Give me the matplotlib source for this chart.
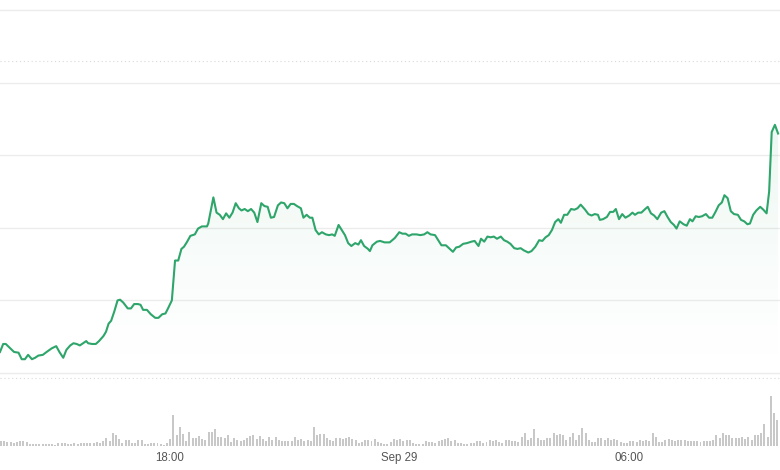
import numpy as np
import pandas as pd
import matplotlib
matplotlib.use("Agg")
import matplotlib.pyplot as plt
import matplotlib.dates as mdates
from matplotlib.colors import to_rgb

plt.rcParams['font.family'] = ['Liberation Sans', 'DejaVu Sans']

# Data -------------------------------------------------------------------
start = pd.Timestamp("2023-09-28 13:35")
end_min = 1221

# price trace: minutes after start and price
minutes = [0, 5, 9, 16, 22, 29, 34, 39, 44, 50,
           55, 60, 67, 73, 81, 88, 93, 99, 104, 110,
           115, 120, 125, 130, 135, 138, 144, 150, 155, 162,
           166, 170, 174, 179, 184, 188, 193, 200, 205, 210,
           216, 220, 224, 230, 236, 243, 248, 254, 259, 263,
           269, 274, 279, 284, 288, 293, 298, 305, 310, 316,
           324, 326, 334, 339, 344, 349, 354, 359, 364, 369,
           374, 378, 383, 388, 393, 398, 403, 409, 414, 419,
           424, 429, 435, 440, 445, 450, 455, 460, 465, 471,
           475, 480, 485, 489, 494, 499, 504, 510, 515, 520,
           524, 530, 535, 540, 545, 550, 556, 561, 565, 570,
           576, 579, 583, 590, 595, 602, 610, 618, 625, 630,
           635, 640, 645, 652, 658, 664, 669, 674, 681, 686,
           691, 698, 703, 709, 714, 719, 725, 731, 738, 743,
           749, 753, 758, 763, 768, 773, 778, 784, 789, 794,
           799, 805, 810, 815, 820, 827, 832, 838, 844, 849,
           854, 859, 864, 869, 874, 878, 883, 888, 894, 899,
           904, 909, 916, 921, 926, 931, 936, 939, 944, 950,
           955, 960, 964, 969, 974, 979, 985, 990, 994, 999,
           1004, 1010, 1014, 1019, 1024, 1029, 1035, 1040, 1045, 1050,
           1055, 1059, 1064, 1070, 1075, 1080, 1084, 1089, 1094, 1099,
           1105, 1110, 1115, 1120, 1125, 1130, 1134, 1139, 1144, 1149,
           1155, 1160, 1165, 1170, 1174, 1179, 1184, 1190, 1195, 1200,
           1204, 1208, 1213, 1218]

price = [100.29, 100.40, 100.40, 100.34, 100.29, 100.28, 100.19, 100.19, 100.25, 100.19,
         100.21, 100.24, 100.25, 100.29, 100.34, 100.37, 100.29, 100.21, 100.32, 100.38,
         100.41, 100.40, 100.38, 100.41, 100.44, 100.41, 100.40, 100.40, 100.44, 100.51,
         100.57, 100.68, 100.72, 100.85, 101.00, 101.01, 100.97, 100.89, 100.89, 100.95,
         100.95, 100.94, 100.87, 100.87, 100.81, 100.76, 100.76, 100.81, 100.82, 100.89,
         101.00, 101.55, 101.55, 101.71, 101.74, 101.81, 101.89, 101.91, 101.99, 102.02,
         102.02, 102.06, 102.42, 102.21, 102.18, 102.12, 102.20, 102.14, 102.21, 102.34,
         102.27, 102.24, 102.26, 102.23, 102.26, 102.21, 102.08, 102.34, 102.30, 102.29,
         102.14, 102.15, 102.31, 102.35, 102.34, 102.27, 102.33, 102.33, 102.30, 102.27,
         102.14, 102.18, 102.14, 102.14, 101.97, 101.91, 101.94, 101.91, 101.90, 101.91,
         101.89, 102.04, 101.97, 101.90, 101.79, 101.75, 101.79, 101.77, 101.83, 101.75,
         101.71, 101.68, 101.76, 101.81, 101.82, 101.80, 101.80, 101.86, 101.94, 101.92,
         101.92, 101.89, 101.91, 101.91, 101.90, 101.91, 101.94, 101.91, 101.90, 101.83,
         101.76, 101.76, 101.72, 101.67, 101.73, 101.74, 101.78, 101.79, 101.81, 101.82,
         101.75, 101.85, 101.81, 101.88, 101.87, 101.88, 101.85, 101.88, 101.83, 101.81,
         101.78, 101.72, 101.71, 101.72, 101.69, 101.66, 101.68, 101.74, 101.83, 101.82,
         101.87, 101.90, 101.97, 102.08, 102.12, 102.07, 102.18, 102.18, 102.26, 102.25,
         102.27, 102.32, 102.25, 102.19, 102.17, 102.19, 102.18, 102.11, 102.12, 102.15,
         102.22, 102.22, 102.26, 102.12, 102.19, 102.14, 102.17, 102.21, 102.18, 102.21,
         102.21, 102.26, 102.29, 102.20, 102.17, 102.12, 102.21, 102.23, 102.15, 102.08,
         102.04, 101.99, 102.09, 102.05, 102.03, 102.12, 102.09, 102.16, 102.15, 102.16,
         102.19, 102.14, 102.14, 102.22, 102.31, 102.35, 102.45, 102.41, 102.23, 102.19,
         102.18, 102.11, 102.09, 102.05, 102.06, 102.18, 102.24, 102.29, 102.25, 102.20,
         102.50, 103.32, 103.42, 103.30]

# volume, one bar per 5 minutes
volume = [14, 14, 13, 13, 9, 11, 14, 14, 11, 7, 5, 5, 5, 5, 5, 6, 7, 4, 9, 9,
          9, 7, 7, 9, 6, 9, 10, 10, 10, 10, 12, 10, 14, 24, 14, 39, 32, 22, 10, 17,
          18, 9, 9, 19, 17, 7, 7, 9, 9, 8, 7, 4, 9, 21, 92, 34, 56, 37, 16, 42,
          23, 25, 30, 22, 17, 42, 42, 51, 28, 26, 24, 32, 12, 23, 17, 14, 17, 23, 29, 33,
          22,
          29, 20, 15, 27, 17, 26, 19, 15, 14, 14, 15, 27, 17, 20, 14, 19, 14, 57, 32, 35,
          35, 24, 19, 15, 25, 25, 20, 24, 27, 22, 17, 10, 12, 17, 17, 15, 20, 12, 10, 7,
          7, 12, 20, 17, 22, 15, 19, 19, 10, 7, 5, 7, 14, 12, 12, 9, 14, 17, 20, 25,
          15, 17, 10, 9, 7, 7, 9, 10, 15, 15, 9, 12, 19, 14, 19, 12, 9, 19, 17, 14,
          14,
          13, 28, 40, 18, 23, 50, 23, 18, 18, 23, 23, 40, 33, 36, 33, 18, 28, 40, 18, 33,
          53, 38, 18, 13, 13, 23, 23, 18, 25, 18, 20, 18, 13, 10, 10, 16, 16, 13, 18, 16,
          18, 16, 40, 28, 13, 13, 18, 20, 18, 16, 18, 18, 18, 16, 16, 16, 16, 13, 15, 16,
          15, 18, 33, 23, 40, 33, 33, 23, 23, 23, 28, 20, 28, 18, 33, 33, 38, 66, 28, 150,
          98, 78]

grid_levels = [100, 101, 102, 103, 104, 105]
ref_level = 104.30
tick_times = ["2023-09-28 18:00", "2023-09-29 00:00", "2023-09-29 06:00"]
tick_labels = ["18:00", "Sep 29", "06:00"]

# ------------------------------------------------------------------------
green = '#2ea56a'
grid_c = '#ececec'

t_price = mdates.date2num(start + pd.to_timedelta(minutes, unit="m"))
t_vol = mdates.date2num(start + pd.to_timedelta(np.arange(len(volume)) * 5, unit="m"))
x0 = mdates.date2num(start)
x1 = mdates.date2num(start + pd.Timedelta(minutes=end_min))

fig = plt.figure(figsize=(7.8, 4.7), dpi=100)
ax = fig.add_axes([0, 97/470, 1, 373/470])
axv = fig.add_axes([0, 24/470, 1, 68/470])

y_lo, y_hi = 100.0, 105.14

# gridlines
for lv in grid_levels:
    ax.axhline(lv, color=grid_c, lw=1.0, zorder=0, clip_on=False)
ax.axhline(ref_level, color='#d9d9d9', lw=0.8, ls=(0, (1, 2.5)), zorder=0)

# gradient fill under the line
rgb = to_rgb(green)
grad = np.zeros((256, 1, 4))
grad[..., 0], grad[..., 1], grad[..., 2] = rgb
grad[:, 0, 3] = np.linspace(0.0, 0.13, 256) ** 1.2
fill = ax.fill_between(t_price, price, y_lo, color='none', lw=0)
im = ax.imshow(grad, aspect='auto', origin='lower',
               extent=[x0, x1, y_lo, max(price)], zorder=1)
im.set_clip_path(fill.get_paths()[0], transform=ax.transData)

ax.plot(t_price, price, color=green, lw=1.5, zorder=3, solid_joinstyle='round')

ax.set_xlim(x0, x1)
ax.set_ylim(y_lo, y_hi)
ax.set_xticks([])
ax.set_yticks([])
for s in ax.spines.values():
    s.set_visible(False)

# volume
axv.bar(t_vol, volume, width=5 / 1440 * 0.62, color='#c8c8c8', align='edge', lw=0)
axv.set_xlim(x0, x1)
axv.set_ylim(0, 204)
axv.axhline(204, color='#dadada', lw=0.8, ls=(0, (1, 2.5)), clip_on=False)
axv.set_yticks([])
axv.set_xticks(mdates.date2num(pd.to_datetime(tick_times)))
axv.set_xticklabels(tick_labels)
axv.tick_params(axis='x', length=0, pad=4, labelsize=8.3, labelcolor='#555555')
for s in axv.spines.values():
    s.set_visible(False)

fig.savefig('out.png', dpi=100)
